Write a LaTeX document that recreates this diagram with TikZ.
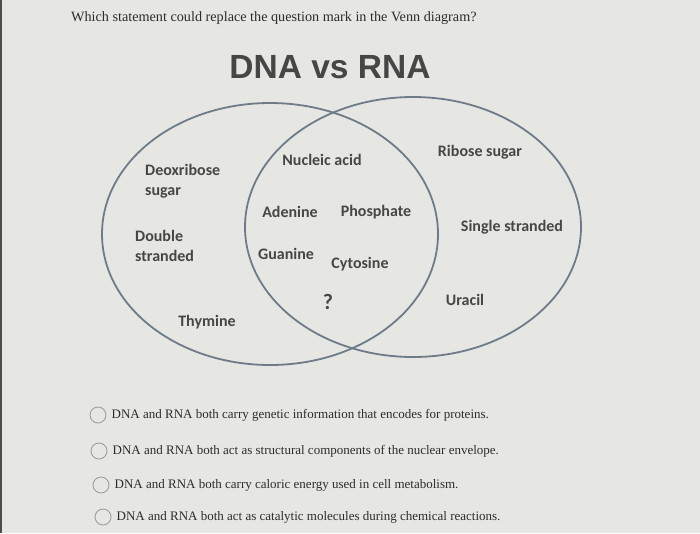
\documentclass[tikz,border=0pt]{standalone}
\usepackage{fontspec}
\setmainfont{Liberation Serif}
\newfontfamily\vennfont{Carlito}
\newfontfamily\titlefont{Liberation Sans}
\usepackage{xcolor}
\usepackage{tikz}
\usetikzlibrary{positioning}

\definecolor{paper}{HTML}{E6E6E3}
\definecolor{ring}{HTML}{6E7C89}
\definecolor{ink}{HTML}{464646}
\definecolor{qink}{HTML}{2C2C2C}

\begin{document}
\begin{tikzpicture}[
    x=1pt, y=-1pt,
    lbl/.style={inner sep=0pt, text=ink, font=\vennfont\bfseries\fontsize{16}{18}\selectfont},
    radio/.style={circle, draw=gray!75, line width=0.9pt, minimum size=16pt, inner sep=0pt},
    answer/.style={right=5pt of #1, inner sep=0pt, text=qink, font=\fontsize{13}{15}\selectfont}
]

% --- HINTERGRUND ---
\fill[paper] (0,0) rectangle (700,533);
\useasboundingbox (0,0) rectangle (700,533);
\fill[black!70] (0,0) rectangle (2,533);

% --- FRAGE ---
\node[inner sep=0pt, anchor=west, text=qink, font=\fontsize{14.2}{16}\selectfont] (frage) at (71,18) {Which statement could replace the question mark in the Venn diagram?};

% --- TITEL ---
\node[inner sep=0pt, text=ink, font=\titlefont\bfseries\fontsize{33.5}{36}\selectfont] (titel) at (330,67) {DNA vs RNA};

% --- KREISE ---
\draw[ring, line width=1.8pt] (270,234) ellipse (168 and 131); % DNA
\draw[ring, line width=1.8pt] (413,227) ellipse (168 and 130); % RNA

% --- NUR DNA ---
\node[lbl, anchor=west, align=left] (desoxy) at (145,181) {Deoxribose\\[2pt]sugar};
\node[lbl, anchor=west, align=left] (doppel) at (135,246) {Double\\[2pt]stranded};
\node[lbl] (thymin) at (207,322) {Thymine};

% --- BEIDE ---
\node[lbl] (nukl) at (322,160) {Nucleic acid};
\node[lbl] (adenin) at (290,212) {Adenine};
\node[lbl] (phosphat) at (376,212) {Phosphate};
\node[lbl] (guanin) at (286,254) {Guanine};
\node[lbl] (cytosin) at (360,264) {Cytosine};
\node[lbl, font=\vennfont\bfseries\fontsize{22}{24}\selectfont] (frag) at (328,302) {?};

% --- NUR RNA ---
\node[lbl] (ribose) at (480,152) {Ribose sugar};
\node[lbl] (einzel) at (512,227) {Single stranded};
\node[lbl] (uracil) at (465,300) {Uracil};

% --- ANTWORTEN ---
\node[radio] (o1) at (98,415) {};
\node[radio] (o2) at (99,451) {};
\node[radio] (o3) at (101,485) {};
\node[radio] (o4) at (103,517) {};
\node[answer=o1] (a1) {DNA and RNA both carry genetic information that encodes for proteins.};
\node[answer=o2] (a2) {DNA and RNA both act as structural components of the nuclear envelope.};
\node[answer=o3] (a3) {DNA and RNA both carry caloric energy used in cell metabolism.};
\node[answer=o4] (a4) {DNA and RNA both act as catalytic molecules during chemical reactions.};

\end{tikzpicture}
\end{document}
